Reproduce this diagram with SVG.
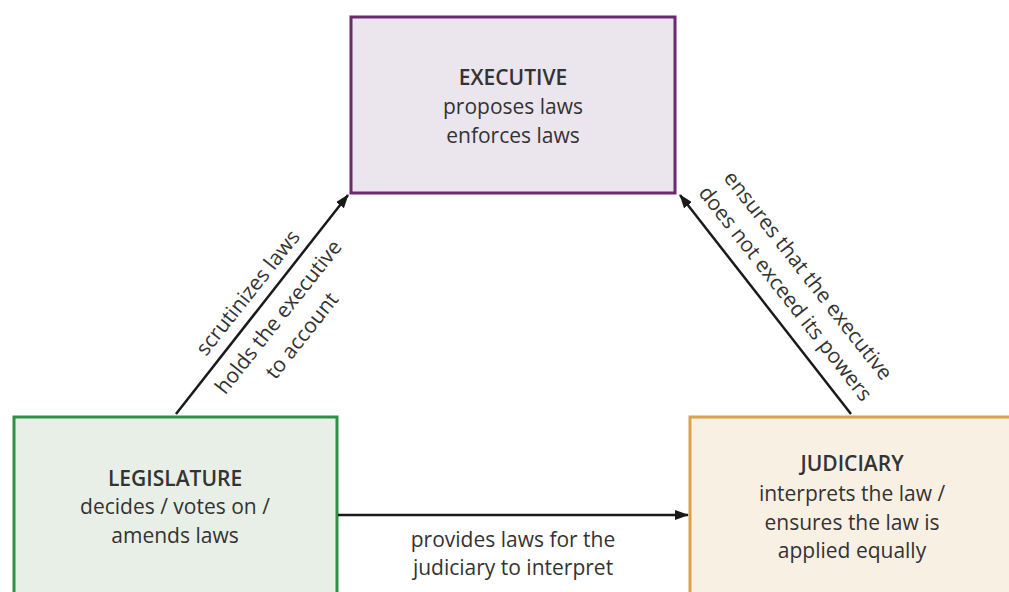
<svg xmlns="http://www.w3.org/2000/svg" width="1009" height="592" viewBox="0 0 1009 592">
  <defs>
    <marker id="arrow" markerWidth="14" markerHeight="10" refX="13" refY="5" orient="auto" markerUnits="userSpaceOnUse">
      <path d="M0,0 L14,5 L0,10 Z" fill="#1a1a1a"/>
    </marker>
  </defs>
  <style>
    text { font-family: "Open Sans", "Liberation Sans", sans-serif; font-size: 21px; fill: #333333; text-anchor: middle; }
    .title { font-weight: 600; }
    .box { stroke-width: 3; }
    .conn { stroke: #1a1a1a; stroke-width: 2.5; fill: none; marker-end: url(#arrow); }
  </style>
  <rect width="1009" height="592" fill="#ffffff"/>

  <!-- Executive -->
  <g id="executive">
    <rect class="box" x="351" y="17" width="324" height="176" fill="#ebe5ee" stroke="#6b2a6f"/>
    <text class="title" x="513" y="85">EXECUTIVE</text>
    <text x="513" y="114">proposes laws</text>
    <text x="513" y="143">enforces laws</text>
  </g>

  <!-- Legislature -->
  <g id="legislature">
    <rect class="box" x="14" y="417" width="323" height="190" fill="#e8efe6" stroke="#2f9148"/>
    <text class="title" x="175" y="486">LEGISLATURE</text>
    <text x="175" y="514">decides / votes on /</text>
    <text x="175" y="543">amends laws</text>
  </g>

  <!-- Judiciary -->
  <g id="judiciary">
    <rect class="box" x="690" y="417" width="330" height="190" fill="#f9f0e4" stroke="#d9a24f"/>
    <text class="title" x="852" y="471">JUDICIARY</text>
    <text x="852" y="501">interprets the law /</text>
    <text x="852" y="530">ensures the law is</text>
    <text x="852" y="558">applied equally</text>
  </g>

  <!-- Connectors -->
  <g id="connectors">
    <line class="conn" x1="176" y1="414" x2="348" y2="195"/>
    <line class="conn" x1="851" y1="414" x2="680" y2="195"/>
    <line class="conn" x1="338" y1="515" x2="688" y2="515"/>

    <!-- legislature to executive labels -->
    <g transform="translate(262,304) rotate(-51.6)">
      <text y="-11">scrutinizes laws</text>
      <text y="28">holds the executive</text>
      <text y="58">to account</text>
    </g>

    <!-- judiciary to executive labels -->
    <g transform="translate(768,307) rotate(51.9)">
      <text y="-44">ensures that the executive</text>
      <text y="-15">does not exceed its powers</text>
    </g>

    <!-- legislature to judiciary label -->
    <text x="513" y="547">provides laws for the</text>
    <text x="513" y="575">judiciary to interpret</text>
  </g>
</svg>
